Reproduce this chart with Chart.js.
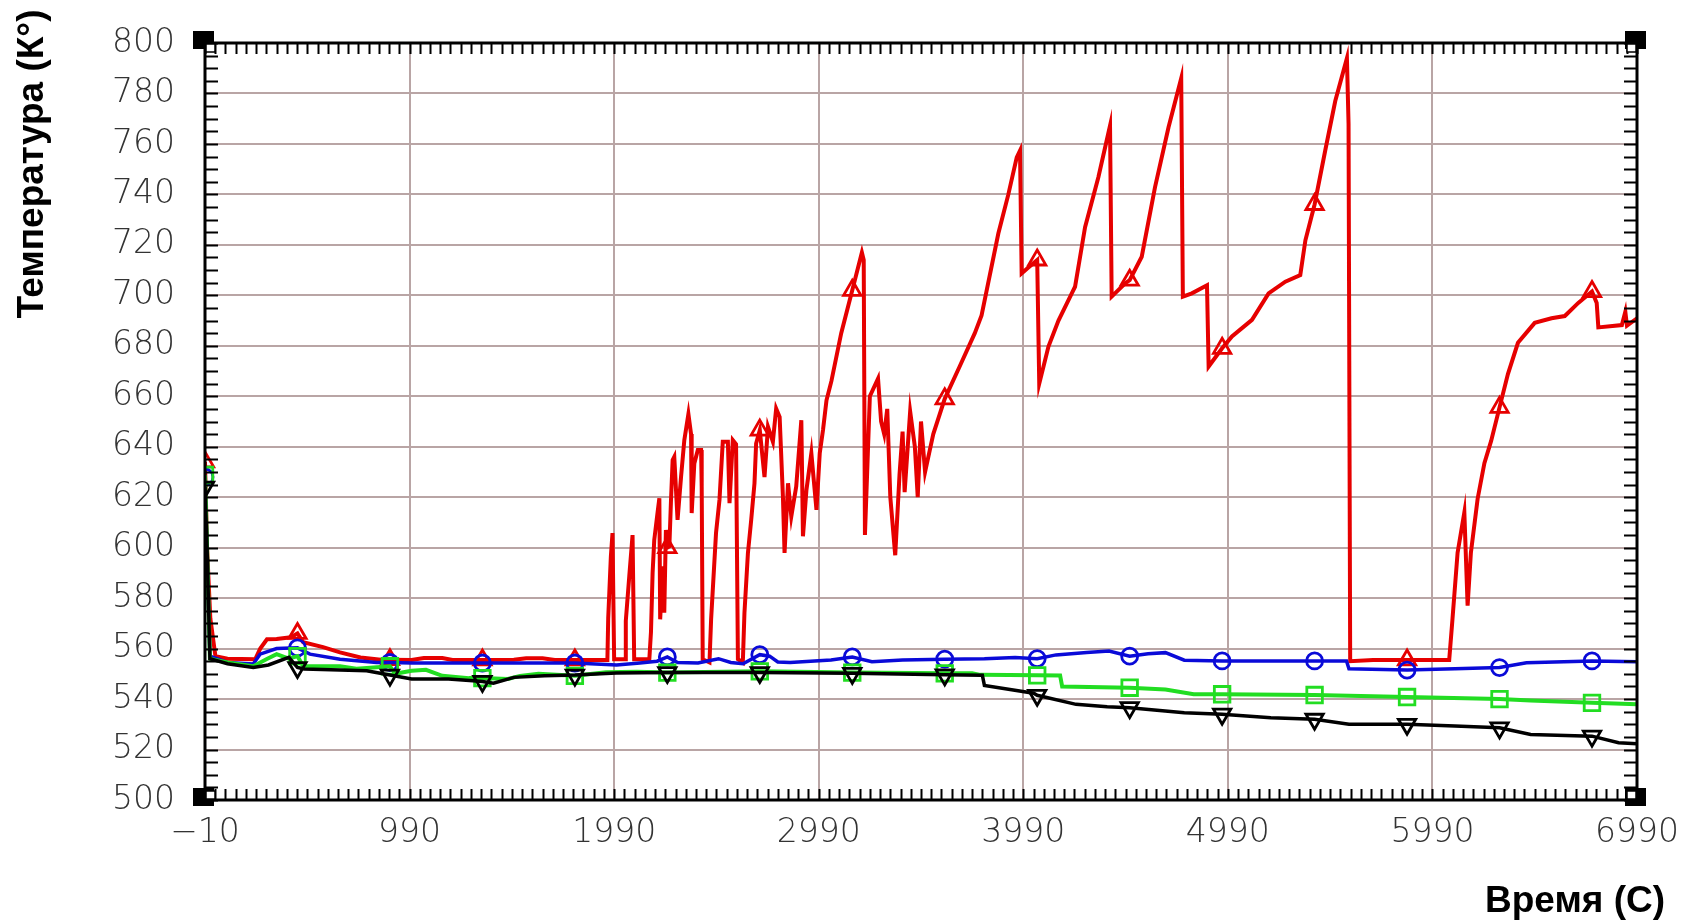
<!DOCTYPE html>
<html>
<head>
<meta charset="utf-8">
<title>Температура</title>
<script src="https://cdn.jsdelivr.net/npm/chart.js@4.4.1/dist/chart.umd.min.js"></script>
<style>
  html, body { margin: 0; padding: 0; background: #fff; }
  #wrap { width: 1686px; height: 921px; position: relative; }
</style>
</head>
<body>
<div id="wrap"><canvas id="tempChart"></canvas></div>
<script>
// axis ticks
const xTicks = [-10, 990, 1990, 2990, 3990, 4990, 5990, 6990];
const xTickLabels = ['−10', '990', '1990', '2990', '3990', '4990', '5990', '6990'];
const yTicks = [500, 520, 540, 560, 580, 600, 620, 640, 660, 680, 700, 720, 740, 760, 780, 800];

// time points where the series carry a marker
const markerX = [-10, 442, 894, 1346, 1798, 2250, 2702, 3154, 3606, 4058, 4510, 4962, 5414, 5866, 6318, 6770];

// series, [time, temperature]
const redData = [
  [-10,634],[0,600],[16,572],[41,557],[100,556],[236,555.8],[260,560],[293,563.7],[340,563.8],[410,564.5],
  [442,566],[470,562.5],[567,560.6],[650,558.5],[750,556.5],[850,555.6],[894,555.6],[1000,555.5],[1060,556.3],
  [1150,556.3],[1200,555.5],[1346,555.5],[1500,555.6],[1560,556.2],[1640,556.2],[1700,555.5],[1798,555.5],
  [1957,555.5],[1961,572],[1974,596.6],[1982,605.8],[1990,555.8],[2047,555.8],[2047,571],[2064,588.7],
  [2080,605],[2088,555.8],[2162,555.8],[2170,566.5],[2178,590],[2186,603],[2202,613.7],[2211,619.6],
  [2215,571.6],[2227,592.6],[2235,574.2],[2243,607],[2250,600],[2260,600.5],[2268,619],[2276,634.7],
  [2284,636],[2300,611],[2317,628],[2333,642.6],[2353,653],[2366,645],[2369,613.7],[2382,633.4],[2399,638.7],
  [2415,638.7],[2418,624.2],[2423,555.8],[2456,554.5],[2464,571.6],[2488,605.8],[2505,619],[2521,642],
  [2546,642],[2554,617.6],[2570,642.6],[2586,641],[2595,555.8],[2619,554.5],[2627,574.2],[2644,597.9],
  [2660,611],[2676,625.5],[2684,641.3],[2702,646.6],[2725,628],[2742,647.9],[2766,642],[2782,655.1],
  [2799,651.8],[2815,620.3],[2823,597.9],[2840,625.5],[2856,612.4],[2880,624.2],[2905,650.5],[2913,604.5],
  [2930,622.9],[2954,637.4],[2979,615],[2995,637.4],[3011,646.6],[3028,658.4],[3052,666],
  [3100,685],[3154,702],[3201,717],[3210,714],[3216,605],[3240,660],[3280,667],[3295,650],[3310,645],[3325,655],
  [3340,620],[3364,597],[3385,629],[3400,646],[3410,622],[3437,654],[3460,640],[3474,620],[3490,650],[3510,630],
  [3550,645],[3606,659],[3680,672],[3753,685],[3786,692],[3868,724.5],[3917,740],[3958,754.7],[3974,757.4],
  [3982,708.7],[4015,711],[4058,714],[4068,665],[4113,679.7],[4162,690],[4227,700.8],[4243,703.4],[4292,727],
  [4357,746.8],[4414,767.2],[4422,699.5],[4487,704.7],[4510,706],[4569,715.3],[4634,742.9],[4700,766.6],
  [4762,786],[4770,699.5],[4814,700.8],[4888,704],[4896,671.8],[4962,679],[5010,683.7],[5108,690.3],[5189,700.8],
  [5271,705.4],[5344,708],[5369,721.8],[5414,736],[5466,757.4],[5515,777],[5572,794],[5580,768],[5588,555],
  [5700,555.5],[5866,555.5],[6072,555.5],[6088,571.7],[6113,598],[6146,614],[6162,577],[6178,598],[6211,619.4],
  [6244,633.5],[6277,642.3],[6318,655.6],[6359,668.8],[6408,681.2],[6490,689.1],[6572,690.9],[6637,691.8],
  [6703,697],[6770,701.5],[6793,697],[6801,687.3],[6916,688.2],[6933,693.5],[6941,688],[6990,690.9]
];

const blueData = [
  [-10,628],[0,600],[14,557],[100,554.5],[226,553.9],[259,557.8],[340,560],[442,560.3],[503,557.8],[650,555.8],
  [829,554.5],[894,554.5],[1000,554.3],[1346,554.3],[1798,554.3],[2002,553.5],[2116,554.3],[2200,555],
  [2250,556.7],[2300,554.5],[2400,554.3],[2500,556],[2560,554.5],[2620,554],[2702,557.6],[2750,557],
  [2790,554.7],[2850,554.5],[2950,555],[3050,555.5],[3154,556.7],[3250,554.8],[3400,555.5],[3606,555.8],
  [3800,556],[3950,556.5],[4058,556],[4150,557.5],[4300,558.5],[4409,559],[4510,557],[4600,558],[4685,558.4],
  [4777,555.4],[4962,555.1],[5414,555.1],[5570,555.1],[5582,552],[5866,551.5],[6100,552],[6318,552.5],
  [6450,554.4],[6770,555.1],[6990,554.8]
];

const greenData = [
  [-10,628.8],[0,600],[14,556],[100,554.5],[226,553],[290,555.8],[340,557.8],[400,556],[442,557],[470,553],
  [650,553],[730,552],[894,553],[920,550],[1000,551.2],[1070,551.6],[1150,549.2],[1280,548.3],[1346,548.3],
  [1470,548],[1530,549.2],[1620,550],[1798,549.2],[1950,550.6],[2100,550.8],[2250,550.5],[2702,551],
  [3154,550.5],[3606,550.2],[3740,550.2],[3780,549.6],[4058,549.4],[4170,549.3],[4180,545],[4510,544.5],
  [4685,543.8],[4823,541.9],[4962,541.9],[5414,541.6],[5866,540.8],[6318,540],[6470,539.4],[6770,538.5],
  [6990,537.9]
];

const blackData = [
  [-10,624],[0,600],[14,556],[100,554],[226,552.5],[300,553.5],[400,556.5],[442,552.5],[475,551.9],[780,551.2],
  [894,549.5],[1000,548],[1180,548],[1300,547.3],[1346,547],[1400,546.3],[1500,548.6],[1650,549.2],
  [1798,549.5],[2000,550.3],[2250,550.5],[2702,550.5],[3154,550.2],[3606,549.6],[3790,549.4],[3800,545.4],
  [4041,542.3],[4058,541.5],[4248,537.9],[4400,537],[4510,536.6],[4777,534.6],[4962,534],[5200,532.6],
  [5414,532],[5582,530],[5866,530],[6100,529.3],[6318,528.6],[6470,526],[6770,525.3],[6900,522.7],[6990,522.3]
];

function toPoints(arr) {
    return arr.map(p => ({ x: p[0], y: p[1] }));
}

function series(data, color, width, style, radius, rotation) {
    return {
        data: toPoints(data),
        borderColor: color,
        borderWidth: width,
        tension: 0,
        fill: false,
        pointStyle: style,
        pointRotation: rotation || 0,
        pointRadius: ctx => markerX.includes(ctx.raw.x) ? radius : 0,
        pointBorderColor: color,
        pointBackgroundColor: 'rgba(0,0,0,0)',
        pointBorderWidth: 2.8
    };
}

const frame = {
    id: 'frame',
    afterDatasetsDraw(chart) {
        const { ctx, chartArea: a, scales: { x, y } } = chart;
        ctx.save();
        ctx.strokeStyle = '#000';
        ctx.lineWidth = 2;
        ctx.beginPath();
        for (let v = -10; v <= 6990; v += 50) {
            const px = Math.round(x.getPixelForValue(v)) + 0.5;
            ctx.moveTo(px, a.top); ctx.lineTo(px, a.top + 11);
            ctx.moveTo(px, a.bottom); ctx.lineTo(px, a.bottom - 11);
        }
        for (let v = 500; v <= 800; v += 5) {
            const py = Math.round(y.getPixelForValue(v)) + 0.5;
            ctx.moveTo(a.left, py); ctx.lineTo(a.left + 13, py);
            ctx.moveTo(a.right, py); ctx.lineTo(a.right - 13, py);
        }
        ctx.stroke();

        ctx.lineWidth = 3;
        ctx.strokeRect(a.left, a.top, a.right - a.left, a.bottom - a.top);

        // corner blocks
        const corners = [[a.left, a.top, 1, 1], [a.right, a.top, -1, 1], [a.left, a.bottom, 1, -1], [a.right, a.bottom, -1, -1]];
        corners.forEach(c => {
            ctx.fillStyle = '#000';
            ctx.fillRect(c[0] - 12, c[1] - 12, 21, 18);
            ctx.fillStyle = '#fff';
            const sx = c[2] > 0 ? c[0] + 1 : c[0] - 10;
            const sy = c[3] > 0 ? c[1] + 1 : c[1] - 9;
            ctx.fillRect(sx, sy, 9, 8);
            ctx.lineWidth = 1.5;
            ctx.strokeRect(sx, sy, 9, 8);
        });
        ctx.restore();
    },
    afterDraw(chart) {
        const ctx = chart.ctx;
        ctx.save();
        ctx.fillStyle = '#000';
        ctx.font = 'bold 37px "Liberation Sans", Arial, sans-serif';
        ctx.textBaseline = 'middle';
        ctx.textAlign = 'right';
        ctx.fillText('Время (С)', 1665, 902);
        ctx.translate(33, 164);
        ctx.rotate(-Math.PI / 2);
        ctx.textAlign = 'center';
        ctx.fillText('Температура (К°)', 0, 0);
        ctx.restore();
    }
};

const tickFont = { family: '"DejaVu Sans ExtraLight", "DejaVu Sans", sans-serif', size: 33, weight: '200' };

new Chart(document.getElementById('tempChart'), {
    type: 'line',
    data: {
        datasets: [
            series(blackData, '#000000', 3.5, 'triangle', 10, 180),
            series(greenData, '#22dd22', 4, 'rect', 11),
            series(blueData, '#0a0ad8', 3.5, 'circle', 8),
            series(redData, '#e60000', 4, 'triangle', 10)
        ]
    },
    options: {
        responsive: true,
        maintainAspectRatio: false,
        animation: false,
        events: [],
        layout: { padding: { top: 43, right: 49, left: 0, bottom: 0 } },
        plugins: { legend: { display: false }, tooltip: { enabled: false } },
        scales: {
            x: {
                type: 'linear',
                min: -10,
                max: 6990,
                afterBuildTicks: axis => { axis.ticks = xTicks.map(v => ({ value: v })); },
                afterFit: axis => { axis.height = 121; axis.paddingLeft = 0; axis.paddingRight = 0; },
                border: { display: false },
                grid: { color: 'rgb(185,165,165)', lineWidth: 2, drawTicks: false },
                ticks: {
                    autoSkip: false,
                    maxRotation: 0,
                    padding: 14,
                    color: '#333',
                    font: tickFont,
                    callback: v => xTickLabels[xTicks.indexOf(v)]
                }
            },
            y: {
                min: 500,
                max: 800,
                afterBuildTicks: axis => { axis.ticks = yTicks.map(v => ({ value: v })); },
                afterFit: axis => { axis.width = 205; axis.paddingTop = 0; axis.paddingBottom = 0; },
                border: { display: false },
                grid: { color: 'rgb(185,165,165)', lineWidth: 2, drawTicks: false },
                ticks: {
                    padding: 30,
                    color: '#333',
                    font: tickFont
                }
            }
        }
    },
    plugins: [frame]
});
</script>
</body>
</html>
